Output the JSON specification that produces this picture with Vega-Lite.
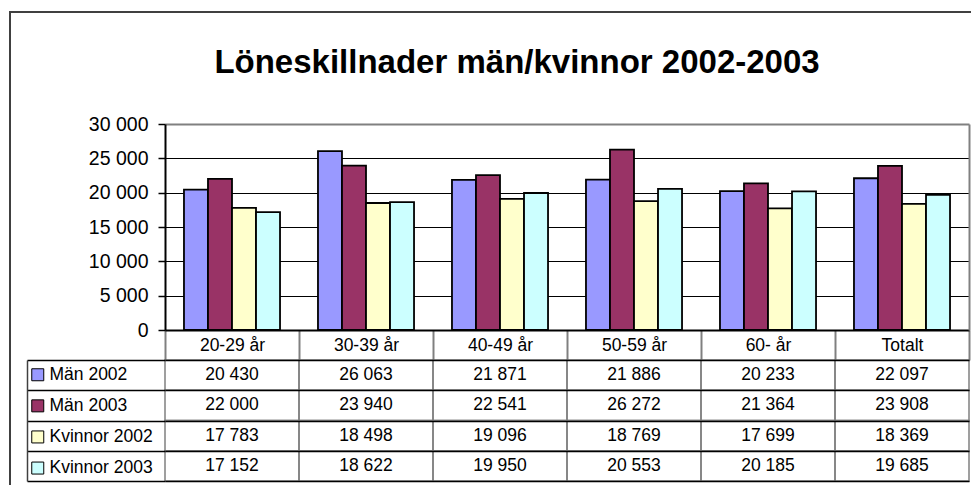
{
  "$schema": "https://vega.github.io/schema/vega-lite/v6.json",
  "width": 1014,
  "height": 490,
  "autosize": {"type": "none"},
  "padding": {"left": 10, "top": 12, "right": -53, "bottom": -17},
  "background": "white",
  "config": {
    "font": "Liberation Sans",
    "locale": {"number": {"decimal": ",", "thousands": " ", "grouping": [3], "currency": ["", " kr"]}},
    "view": {"stroke": "#404040", "strokeWidth": 2},
    "axis": {"labelColor": "black", "labelFont": "Liberation Sans", "title": null}
  },
  "title": {
    "text": "Löneskillnader män/kvinnor 2002-2003",
    "fontSize": 33,
    "fontWeight": "bold",
    "font": "Liberation Sans",
    "color": "black",
    "anchor": "middle",
    "baseline": "alphabetic",
    "offset": -94
  },
  "data": {
    "values": [
      {"category": "20-29 år", "series": "Män 2002", "value": 20430},
      {"category": "20-29 år", "series": "Män 2003", "value": 22000},
      {"category": "20-29 år", "series": "Kvinnor 2002", "value": 17783},
      {"category": "20-29 år", "series": "Kvinnor 2003", "value": 17152},
      {"category": "30-39 år", "series": "Män 2002", "value": 26063},
      {"category": "30-39 år", "series": "Män 2003", "value": 23940},
      {"category": "30-39 år", "series": "Kvinnor 2002", "value": 18498},
      {"category": "30-39 år", "series": "Kvinnor 2003", "value": 18622},
      {"category": "40-49 år", "series": "Män 2002", "value": 21871},
      {"category": "40-49 år", "series": "Män 2003", "value": 22541},
      {"category": "40-49 år", "series": "Kvinnor 2002", "value": 19096},
      {"category": "40-49 år", "series": "Kvinnor 2003", "value": 19950},
      {"category": "50-59 år", "series": "Män 2002", "value": 21886},
      {"category": "50-59 år", "series": "Män 2003", "value": 26272},
      {"category": "50-59 år", "series": "Kvinnor 2002", "value": 18769},
      {"category": "50-59 år", "series": "Kvinnor 2003", "value": 20553},
      {"category": "60- år", "series": "Män 2002", "value": 20233},
      {"category": "60- år", "series": "Män 2003", "value": 21364},
      {"category": "60- år", "series": "Kvinnor 2002", "value": 17699},
      {"category": "60- år", "series": "Kvinnor 2003", "value": 20185},
      {"category": "Totalt", "series": "Män 2002", "value": 22097},
      {"category": "Totalt", "series": "Män 2003", "value": 23908},
      {"category": "Totalt", "series": "Kvinnor 2002", "value": 18369},
      {"category": "Totalt", "series": "Kvinnor 2003", "value": 19685}
    ]
  },
  "encoding": {
    "x": {
      "field": "category",
      "type": "nominal",
      "sort": null,
      "scale": {"range": [155, 959], "paddingInner": 0, "paddingOuter": 0},
      "axis": {
        "orient": "bottom",
        "offset": -172,
        "domainColor": "black",
        "domainWidth": 2,
        "tickBand": "extent",
        "tickSize": 30,
        "tickColor": "#808080",
        "tickWidth": 2,
        "labelFontSize": 17.5,
        "labelBaseline": "middle",
        "labelPadding": -15,
        "labelAngle": 0,
        "grid": false,
        "title": null
      }
    }
  },
  "layer": [
    {
      "mark": {"type": "bar", "stroke": "black", "strokeWidth": 1.8},
      "encoding": {
        "xOffset": {
          "field": "series",
          "type": "nominal",
          "sort": ["Män 2002", "Män 2003", "Kvinnor 2002", "Kvinnor 2003"],
          "scale": {"paddingOuter": 0.79, "paddingInner": 0}
        },
        "y": {
          "field": "value",
          "type": "quantitative",
          "scale": {"domain": [0, 30000], "range": [318, 112], "nice": false},
          "axis": {
            "orient": "left",
            "offset": -155,
            "values": [0, 5000, 10000, 15000, 20000, 25000, 30000],
            "format": ",.0f",
            "labelFontSize": 19.5,
            "labelPadding": 10,
            "tickSize": 7,
            "tickColor": "black",
            "tickWidth": 1.5,
            "domainColor": "black",
            "domainWidth": 2,
            "grid": true,
            "gridColor": {"condition": {"test": "datum.value === 30000", "value": "#808080"}, "value": "black"},
            "gridWidth": {"condition": {"test": "datum.value === 30000", "value": 2}, "value": 1},
            "title": null
          }
        },
        "color": {
          "field": "series",
          "type": "nominal",
          "scale": {
            "domain": ["Män 2002", "Män 2003", "Kvinnor 2002", "Kvinnor 2003"],
            "range": ["#9999FF", "#993366", "#FFFFCC", "#CCFFFF"]
          },
          "legend": {
            "orient": "none",
            "legendX": 19,
            "legendY": 354,
            "title": null,
            "symbolType": "square",
            "symbolSize": 144,
            "symbolStrokeColor": "black",
            "symbolStrokeWidth": 1,
            "symbolOpacity": 1,
            "labelFontSize": 17.5,
            "labelColor": "black",
            "labelOffset": 3,
            "rowPadding": 12.1,
            "padding": 0
          }
        }
      }
    },
    {
      "mark": {"type": "point", "opacity": 0},
      "encoding": {
        "y": {
          "field": "value",
          "type": "quantitative",
          "scale": {"domain": [0, 30000], "range": [318, 112], "nice": false},
          "axis": {
            "orient": "right",
            "offset": -55,
            "domainColor": "#808080",
            "domainWidth": 2,
            "labels": false,
            "ticks": false,
            "grid": false,
            "title": null
          }
        }
      }
    },
    {
      "mark": {"type": "rect", "fill": "transparent", "stroke": "#808080", "strokeWidth": 1.5},
      "encoding": {
        "y": {
          "field": "series",
          "type": "nominal",
          "sort": ["Män 2002", "Män 2003", "Kvinnor 2002", "Kvinnor 2003"],
          "scale": {"range": [348, 469], "paddingInner": 0, "paddingOuter": 0},
          "axis": {
            "orient": "left",
            "offset": -17,
            "tickBand": "extent",
            "tickSize": -138,
            "tickColor": "black",
            "tickWidth": 1.5,
            "domainColor": "#404040",
            "domainWidth": 1.5,
            "labels": false,
            "grid": true,
            "gridColor": "black",
            "gridWidth": 1.5,
            "zindex": 1,
            "title": null
          }
        }
      }
    },
    {
      "mark": {"type": "text", "fontSize": 17.5, "color": "black", "font": "Liberation Sans"},
      "encoding": {
        "y": {
          "field": "series",
          "type": "nominal",
          "sort": ["Män 2002", "Män 2003", "Kvinnor 2002", "Kvinnor 2003"],
          "scale": {"range": [348, 469], "paddingInner": 0, "paddingOuter": 0},
          "axis": null
        },
        "text": {"field": "value", "type": "quantitative", "format": ","}
      }
    }
  ],
  "resolve": {"scale": {"y": "independent"}, "axis": {"y": "independent"}}
}
